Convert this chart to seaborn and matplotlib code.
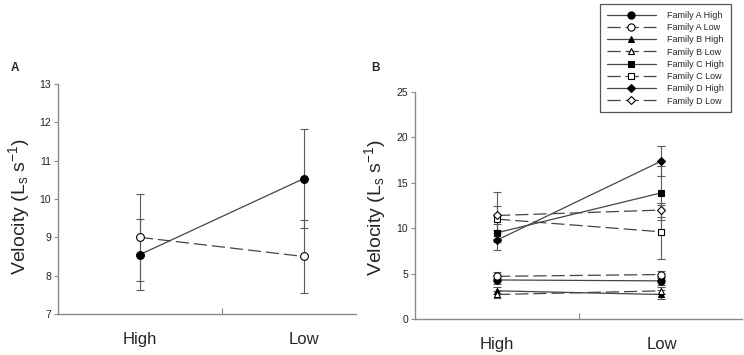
import numpy as np
import pandas as pd
import matplotlib
matplotlib.use("Agg")
import matplotlib.pyplot as plt
import seaborn as sns

# ---- data ----
conditions = ["High", "Low"]
xpos = [1, 2]

# panel A: pooled families
a_high_mean = [8.55, 10.53]
a_high_err = [0.93, 1.29]
a_low_mean = [9.00, 8.50]
a_low_err = [1.13, 0.95]

# panel B: per family
fam_labels = ["Family A High", "Family A Low", "Family B High", "Family B Low",
              "Family C High", "Family C Low", "Family D High", "Family D Low"]
famA_high = [4.3, 4.2]
famA_high_err = [0.4, 0.4]
famA_low = [4.7, 4.9]
famA_low_err = [0.5, 0.4]
famB_high = [3.1, 2.7]
famB_high_err = [0.4, 0.5]
famB_low = [2.7, 3.1]
famB_low_err = [0.4, 0.4]
famC_high = [9.5, 13.9]
famC_high_err = [1.0, 3.0]
famC_low = [11.0, 9.6]
famC_low_err = [1.5, 3.0]
famD_high = [8.7, 17.4]
famD_high_err = [1.1, 1.6]
famD_low = [11.4, 12.0]
famD_low_err = [2.6, 0.8]

sns.set_style("ticks")
plt.rcParams['font.family'] = ['Liberation Sans', 'DejaVu Sans']
plt.rcParams['mathtext.fontset'] = 'custom'
plt.rcParams['mathtext.rm'] = 'Liberation Sans'
plt.rcParams['mathtext.it'] = 'Liberation Sans'

spine_col = '#8a8a8a'
line_col = '#454545'
err_col = '#5a5a5a'
dash = (10.5, 4)


def draw_series(ax, y, err, label, marker, filled, dashed, ms):
    df = pd.DataFrame({"cond": xpos, "vel": y})
    kw = dict(color=line_col, linewidth=0.9, marker=marker, markersize=ms,
              markerfacecolor='black' if filled else 'white',
              markeredgecolor='black', markeredgewidth=0.8, label=label)
    if dashed:
        kw['dashes'] = dash
    sns.lineplot(data=df, x="cond", y="vel", ax=ax, zorder=3, **kw)
    ax.errorbar(xpos, y, yerr=err, fmt='none', ecolor=err_col, elinewidth=0.8,
                capsize=3, capthick=0.8, zorder=2)


def style_axis(ax):
    sns.despine(ax=ax)
    for s in ['left', 'bottom']:
        ax.spines[s].set_color(spine_col)
        ax.spines[s].set_linewidth(1.0)
    ax.tick_params(axis='y', direction='out', length=3, width=0.8, color=spine_col,
                   labelsize=7.5, labelcolor='#222222', pad=2)
    ax.set_xticks([1.5])
    ax.set_xticklabels([])
    ax.tick_params(axis='x', which='major', direction='in', length=4, width=0.8,
                   color=spine_col)
    ax.set_xticks(xpos, labels=conditions, minor=True)
    ax.tick_params(axis='x', which='minor', length=0, pad=13, labelsize=12)
    ax.set_xlabel("")
    ax.set_ylabel("Velocity (L$_\\mathregular{s}$ s$^\\mathregular{-1}$)", fontsize=14)


fig = plt.figure(figsize=(7.44, 3.55), dpi=100)
ax_a = fig.add_axes([0.078, 0.1155, 0.4005, 0.6479])
ax_b = fig.add_axes([0.5578, 0.1014, 0.4395, 0.6394])

# panel A
draw_series(ax_a, a_high_mean, a_high_err, "High", 'o', True, False, 5.6)
draw_series(ax_a, a_low_mean, a_low_err, "Low", 'o', False, True, 5.6)
ax_a.set_xlim(0.5, 2.32)
ax_a.set_ylim(7, 13)
ax_a.set_yticks(range(7, 14))
style_axis(ax_a)
ax_a.yaxis.set_label_coords(-0.087, 0.47)
if ax_a.get_legend():
    ax_a.get_legend().remove()

# panel B
series_b = [
    (famA_high, famA_high_err, 'o', True, False, 5.2),
    (famA_low, famA_low_err, 'o', False, True, 5.2),
    (famB_high, famB_high_err, '^', True, False, 5.0),
    (famB_low, famB_low_err, '^', False, True, 5.0),
    (famC_high, famC_high_err, 's', True, False, 4.6),
    (famC_low, famC_low_err, 's', False, True, 4.6),
    (famD_high, famD_high_err, 'D', True, False, 4.4),
    (famD_low, famD_low_err, 'D', False, True, 4.4),
]
for lab, (y, e, m, f, d, ms) in zip(fam_labels, series_b):
    draw_series(ax_b, y, e, lab, m, f, d, ms)
ax_b.set_xlim(0.5, 2.49)
ax_b.set_ylim(0, 25)
ax_b.set_yticks(range(0, 26, 5))
style_axis(ax_b)
ax_b.yaxis.set_label_coords(-0.083, 0.49)

handles, labels = ax_b.get_legend_handles_labels()
leg = ax_b.legend(handles[:8], labels[:8], loc='upper right',
                  bbox_to_anchor=(731 / 744, 1 - 4 / 355), bbox_transform=fig.transFigure,
                  fontsize=6.5, handlelength=5.4, labelspacing=0.36, handletextpad=1.3,
                  borderpad=0.75, borderaxespad=0, fancybox=False, framealpha=1,
                  edgecolor='#555555')
leg.get_frame().set_linewidth(0.9)

fig.text(15 / 744, 1 - 68 / 355, "A", fontsize=8.5, fontweight='bold', ha='center', va='center')
fig.text(375 / 744, 1 - 68 / 355, "B", fontsize=8.5, fontweight='bold', ha='center', va='center')

fig.savefig("out.png", dpi=100)
